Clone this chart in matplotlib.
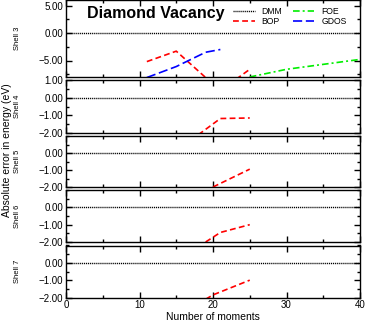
import matplotlib
matplotlib.use('Agg')
import matplotlib.pyplot as plt
from matplotlib.ticker import MultipleLocator, FuncFormatter

plt.rcParams['font.family'] = ['Liberation Sans', 'DejaVu Sans']

shells = ['Shell 3', 'Shell 4', 'Shell 5', 'Shell 6', 'Shell 7']

dmm_x = [0, 40]
dmm_y = [0, 0]

# shell 3
bop3_x = [11, 15, 21, 25]
bop3_y = [-5.2, -3.3, -10.5, -6.6]
gdos3_x = [11, 15, 19, 21]
gdos3_y = [-8.1, -6.1, -3.5, -3.0]
foe3_x = [25, 30, 35, 40]
foe3_y = [-8.0, -6.6, -5.7, -4.8]

# shells 4-7, BOP only
bop4_x = [18, 21, 25]
bop4_y = [-2.1, -1.18, -1.15]
bop5_x = [20, 25]
bop5_y = [-2.0, -0.95]
bop6_x = [19, 21, 25]
bop6_y = [-2.0, -1.45, -1.0]
bop7_x = [19, 20, 25]
bop7_y = [-2.1, -1.85, -1.0]

W, H = 367, 326
fig = plt.figure(figsize=(W / 100, H / 100), dpi=100)

left, right = 66, 360
boxes = [(0, 77), (80, 133), (136, 187), (190, 242), (245.5, 297.5)]
axes = []
for top, bot in boxes:
    ax = fig.add_axes([left / W, 1 - bot / H, (right - left) / W, (bot - top) / H])
    axes.append(ax)

red = dict(color='#ff0000', lw=1.2, dashes=(3.5, 2))
blue = dict(color='#0000ff', lw=1.2, dashes=(5.5, 2.2))
green = dict(color='#00ee00', lw=1.2, dashes=(4, 1.8, 1.2, 1.8))
dot = dict(color='black', lw=1.0, dashes=(0.8, 0.6))

yfmt = FuncFormatter(lambda v, p: ('%.2f' % v).replace('-', '\u2212'))

ax = axes[0]
ax.plot(dmm_x, dmm_y, label='DMM', **dot)
ax.plot(bop3_x, bop3_y, label='BOP', **red)
ax.plot(foe3_x, foe3_y, label='FOE', **green)
ax.plot(gdos3_x, gdos3_y, label='GDOS', **blue)
ax.set_ylim(-8, 6)
ax.set_yticks([-5, 0, 5])
ax.yaxis.set_minor_locator(MultipleLocator(2.5))
ax.text(0.07, 0.82, 'Diamond Vacancy', transform=ax.transAxes,
        fontsize=11.5, fontweight='bold', va='center')
ax.legend(loc='upper right', ncol=2, frameon=False, fontsize=6.2,
          handlelength=2.5, columnspacing=1.2, labelspacing=0.15,
          handletextpad=0.8, bbox_to_anchor=(0.975, 0.985),
          borderpad=0.2)

others = [(bop4_x, bop4_y), (bop5_x, bop5_y), (bop6_x, bop6_y), (bop7_x, bop7_y)]
for i, (bx, by) in enumerate(others):
    ax = axes[i + 1]
    ax.plot(dmm_x, dmm_y, **dot)
    ax.plot(bx, by, **red)
    ax.set_ylim(-2, 1)
    ax.set_yticks([-2, -1, 0, 1] if i == 0 else [-2, -1, 0])
    ax.yaxis.set_minor_locator(MultipleLocator(0.5))

for i, ax in enumerate(axes):
    ax.set_xlim(0, 40)
    ax.xaxis.set_major_locator(MultipleLocator(10))
    ax.xaxis.set_minor_locator(MultipleLocator(5))
    ax.yaxis.set_major_formatter(yfmt)
    ax.tick_params(which='both', direction='in', top=True, right=True,
                   labelsize=7, width=1, pad=2)
    ax.tick_params(which='major', length=4)
    ax.tick_params(which='minor', length=2)
    for s in ax.spines.values():
        s.set_linewidth(1.0)
    if i < 4:
        ax.tick_params(labelbottom=False)
    ax.text(-0.165, 0.5, shells[i], transform=ax.transAxes, rotation=90,
            fontsize=5.5, ha='center', va='center')

axes[-1].set_xticks([0, 10, 20, 30, 40])
axes[-1].xaxis.set_major_formatter(FuncFormatter(lambda v, p: '%d' % v))
axes[-1].set_xlabel('Number of moments', fontsize=7.5, labelpad=1)
fig.text(0.018, 1 - 150 / H, 'Absolute error in energy (eV)', rotation=90,
         fontsize=7.5, ha='center', va='center')

fig.savefig('out.png', dpi=100)
